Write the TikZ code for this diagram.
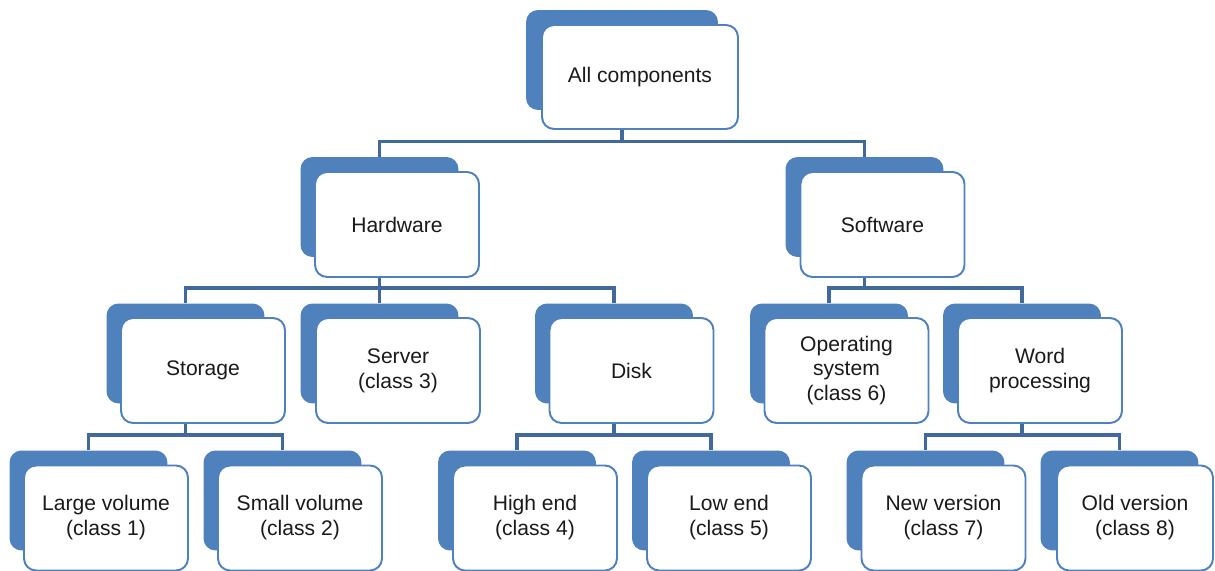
\documentclass[tikz,border=0pt]{standalone}
\usepackage{fontspec}
\setmainfont{Liberation Sans}
\usepackage{xcolor}
\usepackage{tikz}

\definecolor{cardblue}{HTML}{4F81BD}
\definecolor{linkblue}{HTML}{41699B}
\definecolor{inktext}{HTML}{1A1A1A}

\tikzset{
  backbox/.style={rectangle, rounded corners=0.24cm, fill=cardblue, draw=none,
    minimum width=3.16cm, minimum height=2cm},
  frontbox/.style={rectangle, rounded corners=0.24cm, fill=white, draw=cardblue,
    line width=1.1pt, minimum width=3.28cm, minimum height=2.1cm, inner sep=0pt,
    align=center, text=inktext, font=\fontsize{12}{14.2}\selectfont},
  link/.style={draw=linkblue, line width=2pt}
}

\begin{document}
\begin{tikzpicture}[x=0.02cm, y=-0.02cm]
  \useasboundingbox (0,0) rectangle (1215,571);

  % top
  \node [backbox, minimum width=3.84cm] (all-b) at (622,60) {};
  \node [frontbox, minimum width=3.92cm, minimum height=2.08cm] (all) at (640,77) {All components};

  % level 1
  \node [backbox] (hw-b) at (379.5,207) {};
  \node [frontbox] (hw) at (397,224.5) {Hardware};
  \node [backbox] (sw-b) at (864.5,207) {};
  \node [frontbox] (sw) at (882.5,224.5) {Software};

  % level 2
  \node [backbox] (stor-b) at (185.5,353.5) {};
  \node [frontbox] (stor) at (203,370.5) {Storage};
  \node [backbox] (serv-b) at (379.5,353.5) {};
  \node [frontbox] (serv) at (398,370.5) {Server\\(class 3)};
  \node [backbox] (disk-b) at (614,353.5) {};
  \node [frontbox] (disk) at (631.5,370.5) {Disk};
  \node [backbox] (os-b) at (829,353.5) {};
  \node [frontbox] (os) at (846.5,370.5) {Operating\\system\\(class 6)};
  \node [backbox] (wp-b) at (1022,353.5) {};
  \node [frontbox] (wp) at (1040,370.5) {Word\\processing};

  % level 3
  \node [backbox] (large-b) at (88.5,500.5) {};
  \node [frontbox] (large) at (106,518) {Large volume\\(class 1)};
  \node [backbox] (small-b) at (282.5,500.5) {};
  \node [frontbox] (small) at (300,518) {Small volume\\(class 2)};
  \node [backbox] (high-b) at (517,500.5) {};
  \node [frontbox] (high) at (535,518) {High end\\(class 4)};
  \node [backbox] (low-b) at (711,500.5) {};
  \node [frontbox] (low) at (729,518) {Low end\\(class 5)};
  \node [backbox] (new-b) at (925.5,500.5) {};
  \node [frontbox] (new) at (943.5,518) {New version\\(class 7)};
  \node [backbox] (old-b) at (1119.5,500.5) {};
  \node [frontbox, minimum width=3.12cm] (old) at (1135,518) {Old version\\(class 8)};

  % junctions
  \coordinate (j0) at (622,141.5);
  \coordinate (j1) at (379.5,288);
  \coordinate (j2) at (864.5,288);
  \coordinate (j3) at (185.5,435);
  \coordinate (j4) at (614,435);
  \coordinate (j5) at (1022,435);

  % connectors
  \draw[link] (all-b |- all.south) -- (j0) -| (hw-b.north);
  \draw[link] (j0) -| (sw-b.north);
  \draw[link] (hw-b |- hw.south) -- (j1) -| (stor-b.north);
  \draw[link] (j1) -- (serv-b.north);
  \draw[link] (j1) -| (disk-b.north);
  \draw[link] (sw-b |- sw.south) -- (j2) -| (os-b.north);
  \draw[link] (j2) -| (wp-b.north);
  \draw[link] (stor-b |- stor.south) -- (j3) -| (large-b.north);
  \draw[link] (j3) -| (small-b.north);
  \draw[link] (disk-b |- disk.south) -- (j4) -| (high-b.north);
  \draw[link] (j4) -| (low-b.north);
  \draw[link] (wp-b |- wp.south) -- (j5) -| (new-b.north);
  \draw[link] (j5) -| (old-b.north);
\end{tikzpicture}
\end{document}
